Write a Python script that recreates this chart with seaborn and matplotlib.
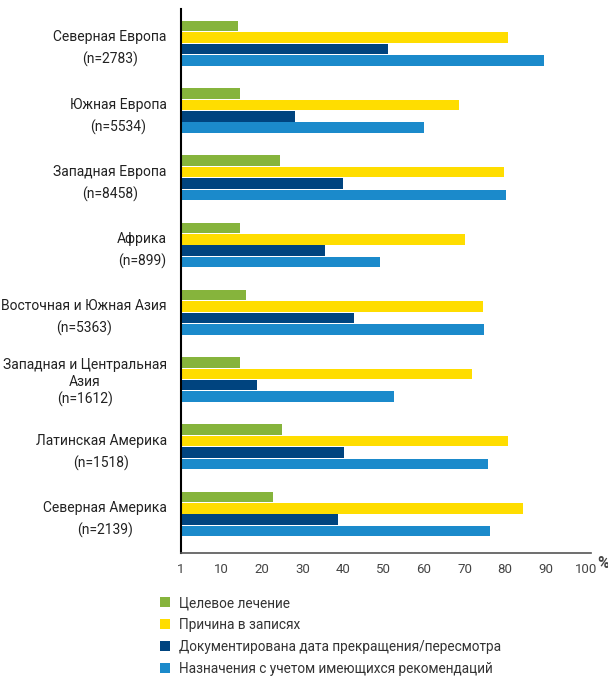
import pandas as pd
import matplotlib.pyplot as plt
import seaborn as sns

regioes = ["Северная Европа\n(n=2783)", "Южная Европа\n(n=5534)", "Западная Европа\n(n=8458)",
           "Африка\n(n=899)", "Восточная и Южная Азия\n(n=5363)",
           "Западная и Центральная\nАзия\n(n=1612)", "Латинская Америка\n(n=1518)",
           "Северная Америка\n(n=2139)"]
series = ["Целевое лечение", "Причина в записях",
          "Документирована дата прекращения/пересмотра",
          "Назначения с учетом имеющихся рекомендаций"]
celevoe = [14.1, 14.6, 24.5, 14.6, 16.2, 14.6, 24.9, 22.7]
prichina = [80.7, 68.6, 79.8, 70.1, 74.6, 71.9, 80.7, 84.4]
data_prekr = [51.1, 28.3, 40.1, 35.6, 42.7, 18.7, 40.2, 38.9]
naznachenia = [89.5, 59.9, 80.3, 49.1, 74.9, 52.6, 75.7, 76.4]
xticks_lbl = ["1", "10", "20", "30", "40", "50", "60", "70", "80", "90", "100"]

cores = ["#86b43c", "#ffdd00", "#00447f", "#1b8acb"]

linhas = []
for s, vals in zip(series, [celevoe, prichina, data_prekr, naznachenia]):
    for r, v in zip(regioes, vals):
        linhas.append({"Регион": r, "Серия": s, "Значение": v})
dados = pd.DataFrame(linhas)

sns.set_style("white")
plt.rcParams['font.family'] = ['Roboto', 'DejaVu Sans']

fig = plt.figure(figsize=(6.08, 6.78), dpi=100)
ax = fig.add_axes([180.7 / 608, 1 - 553 / 678, (591 - 180.7) / 608, (553 - 9) / 678])

sns.barplot(data=dados, y="Регион", x="Значение", hue="Серия", order=regioes,
            hue_order=series, palette=cores, orient="h", width=0.68, gap=0.08,
            saturation=1, linewidth=0, ax=ax)

ax.set_xlim(0, 101.2)
ax.set_ylim(7.58, -0.51)
ax.set_xticks(range(0, 101, 10))
ax.set_xticklabels(xticks_lbl, fontsize=9.5, color="#444444")
ax.tick_params(axis="y", labelsize=10, labelcolor="#222222", length=4, width=1.5,
               color="black", direction="out", pad=6)
ax.tick_params(axis="x", length=4, width=1, color="#555555", direction="out", pad=3)
for t in ax.get_yticklabels():
    t.set_multialignment("center")
    # два ряда - больший интервал, три ряда - плотнее
    t.set_linespacing(1.25 if t.get_text().count("\n") > 1 else 1.65)
ax.set_xlabel("")
ax.set_ylabel("")
sns.despine(ax=ax)
ax.spines["left"].set_color("black")
ax.spines["left"].set_linewidth(1.5)
ax.spines["bottom"].set_color("#555555")
ax.spines["bottom"].set_linewidth(1.2)

fig.text(597 / 608, 1 - 563 / 678, "%", fontsize=11.5, fontweight="bold",
         color="#444444", ha="left", va="center")

handles, labels = ax.get_legend_handles_labels()
ax.legend_.remove()
fig.legend(handles, labels, loc="upper left", bbox_to_anchor=(152 / 608, 1 - 588 / 678),
           frameon=False, fontsize=9.8, handlelength=0.75, handleheight=0.75,
           handletextpad=0.6, labelspacing=0.58, labelcolor="#333333",
           borderpad=0.1)

fig.savefig("out.png", dpi=100)
